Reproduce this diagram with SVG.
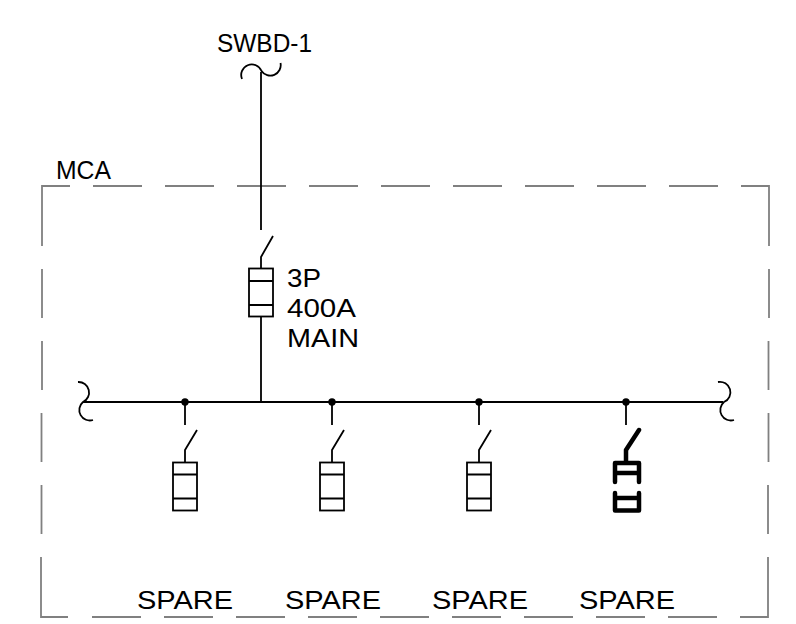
<svg xmlns="http://www.w3.org/2000/svg" width="796" height="624" viewBox="0 0 796 624">
<style>
text{font-family:"Liberation Sans",Arial,sans-serif;font-size:25px;fill:#000}
.w{fill:none;stroke:#000;stroke-width:1.8}
.b{fill:none;stroke:#808080;stroke-width:1.8}
.t{fill:none;stroke:#000;stroke-width:4.500;stroke-linecap:round;stroke-linejoin:round}
.d{fill:#000}
</style>
<rect width="796" height="624" fill="#fff"/>
<g id="enclosure">
<path class="b" d="M70 186H42V246M93 186H142M165 186H214M237 186H286M309 186H358M381 186H430M453 186H502M525 186H574M597 186H646M669 186H718M741 186H769V246M42 269V318M42 341V390M41.500 413V462M41.500 485V534M41 557V617H68M92 617H141M164 617H213M236 617H285M308 617H357M380 617H429M452 617H501M524 617H573M596 617H645M668 617H717M740 617H768V557M768 534V485M768.500 462V413M768.500 390V341M769 318V269"/>
<text x="56" y="179" textLength="55" lengthAdjust="spacingAndGlyphs">MCA</text>
</g>
<g id="connectors">
<path class="w" d="M261 72V230M261 317V402M83 402H723"/>
<path class="w" d="M185 402V425M332 402V425M479 402V425M626 402V425"/>
</g>
<g id="swbd-1">
<path class="w" d="M242 79A10.500 10.500 0 0 1 261.500 71A10.500 10.500 0 0 0 280.500 63"/>
<text x="217" y="52" textLength="95" lengthAdjust="spacingAndGlyphs">SWBD-1</text>
</g>
<g id="bus-left"><path class="w" d="M78 382A10.500 10.500 0 0 1 83 402A10.500 10.500 0 0 0 93 420"/></g>
<g id="bus-right"><path class="w" d="M718 382A10.500 10.500 0 0 1 724 402A10.500 10.500 0 0 0 734 420"/></g>
<g id="main-breaker">
<path class="w" d="M261 268V257L273 236"/>
<rect class="w" x="249" y="268.500" width="24" height="48"/>
<path class="w" d="M249 281H273M249 305H273"/>
<text x="287" y="287" textLength="34" lengthAdjust="spacingAndGlyphs">3P</text>
<text x="287" y="317" textLength="69" lengthAdjust="spacingAndGlyphs">400A</text>
<text x="287" y="347" textLength="72" lengthAdjust="spacingAndGlyphs">MAIN</text>
</g>
<g id="spare-1">
<circle class="d" cx="185" cy="402" r="3.700"/>
<path class="w" d="M185 462V450L197 430"/>
<rect class="w" x="173" y="462.500" width="24" height="48"/>
<path class="w" d="M173 474.500H197M173 498.500H197"/>
<text x="137" y="609" textLength="96" lengthAdjust="spacingAndGlyphs">SPARE</text>
</g>
<g id="spare-2">
<circle class="d" cx="332" cy="402" r="3.700"/>
<path class="w" d="M332 462V450L344 430"/>
<rect class="w" x="320" y="462.500" width="24" height="48"/>
<path class="w" d="M320 474.500H344M320 498.500H344"/>
<text x="285" y="609" textLength="96" lengthAdjust="spacingAndGlyphs">SPARE</text>
</g>
<g id="spare-3">
<circle class="d" cx="479" cy="402" r="3.700"/>
<path class="w" d="M479 462V450L491 430"/>
<rect class="w" x="467" y="462.500" width="24" height="48"/>
<path class="w" d="M467 474.500H491M467 498.500H491"/>
<text x="432" y="609" textLength="96" lengthAdjust="spacingAndGlyphs">SPARE</text>
</g>
<g id="spare-4">
<circle class="d" cx="626" cy="402" r="3.700"/>
<path class="t" d="M626 462V450L639 430M615 482V463H639V482M615 473H639M615 493V510.500H639V493M615 498H639"/>
<text x="579" y="609" textLength="96" lengthAdjust="spacingAndGlyphs">SPARE</text>
</g>
</svg>
